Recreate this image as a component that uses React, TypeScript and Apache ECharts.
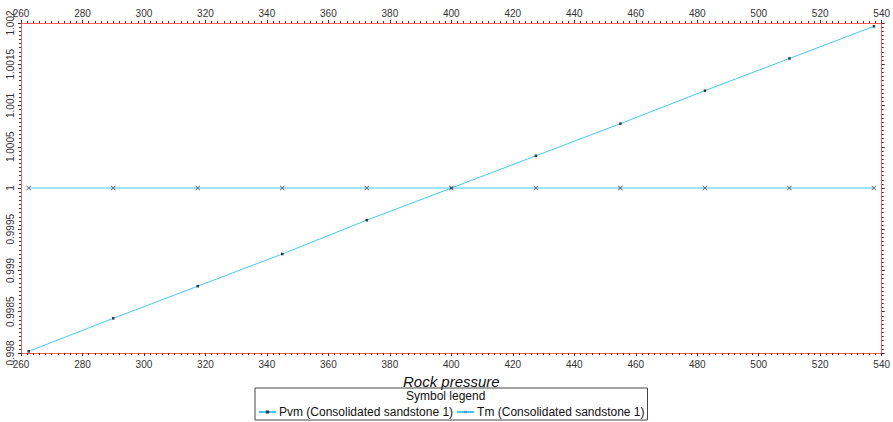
import React, { useEffect, useRef } from "react";
import * as echarts from "echarts";

// Rock pressure sample points
const rockPressure = [262.5, 290, 317.5, 345, 372.5, 400, 427.5, 455, 482.5, 510, 537.5];
// Pvm (Consolidated sandstone 1)
const pvmValues = [0.99802, 0.99842, 0.99881, 0.9992, 0.99961, 1.0, 1.00039, 1.00078, 1.00118, 1.00157, 1.00196];
// Tm (Consolidated sandstone 1)
const tmValues = [1, 1, 1, 1, 1, 1, 1, 1, 1, 1, 1];

const xMin = 260;
const xMax = 540;
const xStep = 20;
const yMin = 0.998;
const yMax = 1.002;
const yStep = 0.0005;

const seriesNames = ["Pvm (Consolidated sandstone 1)", "Tm (Consolidated sandstone 1)"];
const legendTitle = "Symbol legend";
const xTitle = "Rock pressure";

const FONT = "'Liberation Sans', Arial, sans-serif";
const LINE_COLOR = "#42c9f7";
const FRAME_COLOR = "#ff5c5c";
const TICK_COLOR = "#333";
const CROSS =
  "path://M0,1L1,0L5,4L9,0L10,1L6,5L10,9L9,10L5,6L1,10L0,9L4,5Z";

const fmtY = (v: number) => String(Number(v.toFixed(4)));

export default function App() {
  const ref = useRef<HTMLDivElement>(null);

  useEffect(() => {
    document.body.style.margin = "0";
    if (!ref.current) return;
    const chart = echarts.init(ref.current, null, { renderer: "svg" });

    const xCommon = {
      type: "value" as const,
      min: xMin,
      max: xMax,
      interval: xStep,
      axisLine: { show: true, onZero: false, lineStyle: { color: FRAME_COLOR, width: 1 } },
      axisTick: { show: true, inside: false, length: 3, lineStyle: { color: TICK_COLOR } },
      minorTick: { show: true, splitNumber: 10, length: 2, lineStyle: { color: TICK_COLOR } },
      splitLine: { show: false },
      axisLabel: { color: "#333", fontSize: 10, fontFamily: FONT, margin: 6 },
    };

    const yCommon = {
      type: "value" as const,
      min: yMin,
      max: yMax,
      interval: yStep,
      axisLine: { show: true, onZero: false, lineStyle: { color: FRAME_COLOR, width: 1 } },
      axisTick: { show: true, inside: false, length: 3, lineStyle: { color: TICK_COLOR } },
      minorTick: { show: true, splitNumber: 10, length: 2, lineStyle: { color: TICK_COLOR } },
      splitLine: { show: false },
    };

    chart.setOption({
      animation: false,
      backgroundColor: "#fff",
      grid: { left: 21, right: 7, top: 23, bottom: 69, containLabel: false },
      xAxis: [
        {
          ...xCommon,
          position: "bottom",
          name: xTitle,
          nameLocation: "middle",
          nameGap: 18,
          nameTextStyle: { fontSize: 15, fontStyle: "italic", color: "#111", fontFamily: FONT },
        },
        { ...xCommon, position: "top", axisLabel: { ...xCommon.axisLabel, margin: 5 } },
      ],
      yAxis: [
        {
          ...yCommon,
          position: "left",
          axisLabel: {
            color: "#333",
            fontSize: 10,
            fontFamily: FONT,
            rotate: 90,
            margin: 6,
            formatter: fmtY,
          },
        },
        { ...yCommon, position: "right", axisLabel: { show: false } },
      ],
      legend: {
        show: true,
        left: 255,
        top: 388,
        orient: "horizontal",
        padding: [18, 3, 2, 3],
        itemGap: 3,
        itemWidth: 17,
        itemHeight: 4,
        borderColor: "#444",
        borderWidth: 1,
        borderRadius: 0,
        textStyle: { fontSize: 12, color: "#111", fontFamily: FONT, padding: [0, 0, 0, -2] },
        data: seriesNames,
      },
      graphic: [
        {
          type: "text",
          left: 406,
          top: 390,
          style: { text: legendTitle, fontSize: 12, fill: "#111", fontFamily: FONT },
        },
      ],
      series: [
        {
          name: seriesNames[0],
          type: "line",
          data: rockPressure.map((x, i) => [x, pvmValues[i]]),
          symbol: "rect",
          symbolSize: 2.5,
          showSymbol: true,
          lineStyle: { color: LINE_COLOR, width: 1 },
          itemStyle: { color: "#333" },
        },
        {
          name: seriesNames[1],
          type: "line",
          data: rockPressure.map((x, i) => [x, tmValues[i]]),
          symbol: CROSS,
          symbolSize: 5,
          showSymbol: true,
          lineStyle: { color: LINE_COLOR, width: 1 },
          itemStyle: { color: "#555" },
        },
      ],
    });

    return () => chart.dispose();
  }, []);

  return <div ref={ref} style={{ width: 893, height: 422 }} />;
}
